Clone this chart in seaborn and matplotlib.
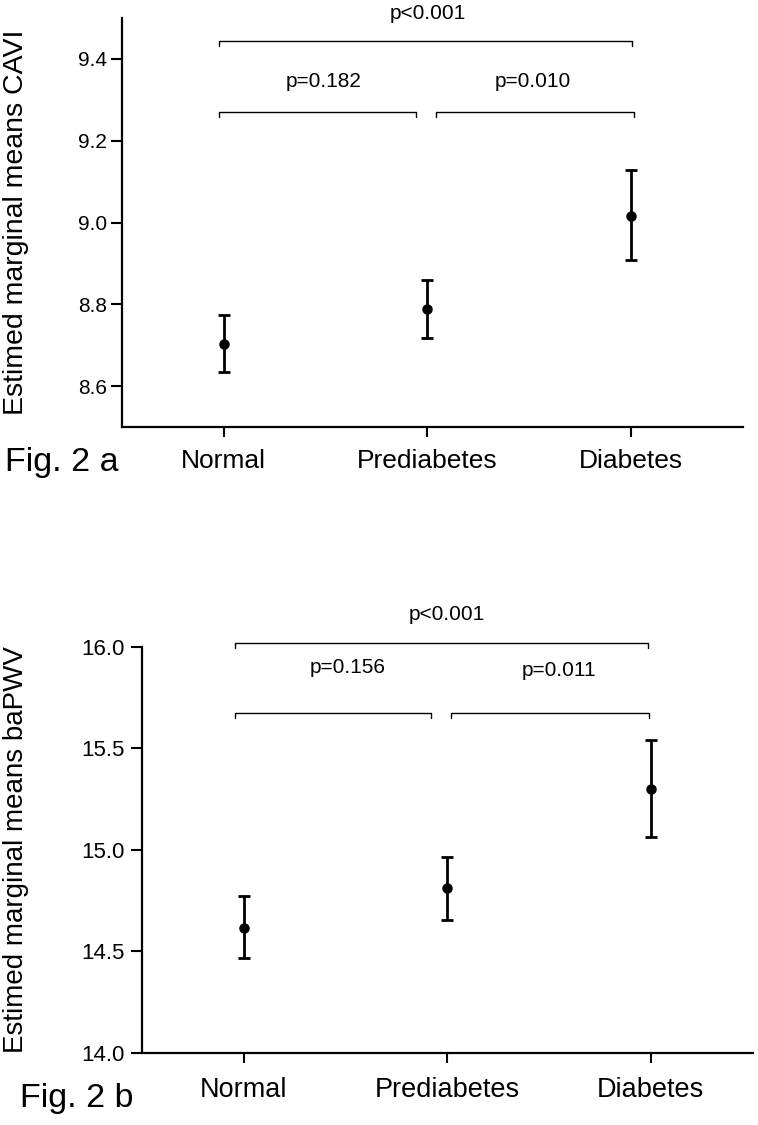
import numpy as np
import pandas as pd
import matplotlib
matplotlib.use("Agg")
import matplotlib.pyplot as plt
import seaborn as sns

# --------------------------------------------------------------------
# Data (estimated marginal means with 95% CI)
# --------------------------------------------------------------------

groups = ["Normal", "Prediabetes", "Diabetes"]

cavi_mean = [8.704, 8.789, 9.017]
cavi_low = [8.634, 8.718, 8.909]
cavi_high = [8.774, 8.860, 9.128]

pwv_mean = [14.616, 14.812, 15.302]
pwv_low = [14.468, 14.655, 15.062]
pwv_high = [14.772, 14.966, 15.542]

# comparisons: (group i, group j, p label)
comparisons = [(0, 2, "p<0.001"), (0, 1, "p=0.182"), (1, 2, "p=0.010")]
comparisons_b = [(0, 2, "p<0.001"), (0, 1, "p=0.156"), (1, 2, "p=0.011")]

# --------------------------------------------------------------------
# Style
# --------------------------------------------------------------------

sns.set_style("ticks")
plt.rcParams["font.family"] = ["Liberation Sans", "DejaVu Sans"]
plt.rcParams["text.color"] = "black"
plt.rcParams["axes.labelcolor"] = "black"
plt.rcParams["xtick.color"] = "black"
plt.rcParams["ytick.color"] = "black"

fig = plt.figure(figsize=(7.58, 11.25), dpi=100)
ax_a = fig.add_axes([0.161, 0.6204, 0.819, 0.3636])
ax_b = fig.add_axes([0.187, 0.064, 0.806, 0.3609])


def draw_panel(ax, mean, low, high):
    df = pd.DataFrame({"group": groups, "mean": mean})
    sns.pointplot(data=df, x="group", y="mean", errorbar=None, color="black",
                  linestyle="none", markers="o", markersize=5.5, ax=ax)
    x = np.arange(len(groups))
    m = np.array(mean)
    yerr = [m - np.array(low), np.array(high) - m]
    ax.errorbar(x, m, yerr=yerr, fmt="none", ecolor="black",
                elinewidth=2, capsize=4, capthick=2)
    sns.despine(ax=ax)
    for s in ["left", "bottom"]:
        ax.spines[s].set_linewidth(1.6)
        ax.spines[s].set_color("black")
    ax.set_xlabel("")


def bracket(ax, x1, x2, y, drop, label=None, ty=None, tx=None, fs=15):
    ax.plot([x1, x1, x2, x2], [y - drop, y, y, y - drop], color="black",
            lw=1.0, clip_on=False)
    if label:
        ax.text(tx, ty, label, ha="center", va="center", fontsize=fs,
                color="black", clip_on=False)


# ---------------- Fig 2a ----------------
draw_panel(ax_a, cavi_mean, cavi_low, cavi_high)
ax_a.set_xlim(-0.5, 2.55)
ax_a.set_ylim(8.5, 9.5)
ax_a.set_yticks([8.6, 8.8, 9.0, 9.2, 9.4])
ax_a.set_yticklabels(["8.6", "8.8", "9.0", "9.2", "9.4"])
ax_a.tick_params(axis="y", direction="out", length=8, width=1.5, pad=3,
                 labelsize=15, color="black")
ax_a.tick_params(axis="x", direction="out", length=7, width=1.5, pad=9,
                 labelsize=19, color="black")
ax_a.set_ylabel("Estimed marginal means CAVI", fontsize=20.5)
ax_a.yaxis.set_label_coords(-0.150, 0.5)

bracket(ax_a, -0.025, 2.005, 9.444, 0.012, comparisons[0][2], 9.512, 1.0)
bracket(ax_a, -0.025, 0.943, 9.27, 0.012, comparisons[1][2], 9.344, 0.49)
bracket(ax_a, 1.042, 2.015, 9.27, 0.012, comparisons[2][2], 9.344, 1.52)

fig.text(0.007, 0.589, "Fig. 2 a", fontsize=24.5, ha="left", va="center")

# ---------------- Fig 2b ----------------
draw_panel(ax_b, pwv_mean, pwv_low, pwv_high)
ax_b.set_xlim(-0.5, 2.5)
ax_b.set_ylim(14.0, 16.0)
ax_b.set_yticks([14.0, 14.5, 15.0, 15.5, 16.0])
ax_b.set_yticklabels(["14.0", "14.5", "15.0", "15.5", "16.0"])
ax_b.tick_params(axis="y", direction="out", length=8, width=1.5, pad=4,
                 labelsize=16, color="black")
ax_b.tick_params(axis="x", direction="out", length=7, width=1.5, pad=10,
                 labelsize=19.5, color="black")
ax_b.set_ylabel("Estimed marginal means baPWV", fontsize=20)
ax_b.yaxis.set_label_coords(-0.185, 0.5)

bracket(ax_b, -0.04, 1.985, 16.02, 0.025, comparisons_b[0][2], 16.158, 1.0)
bracket(ax_b, -0.04, 0.92, 15.675, 0.025, comparisons_b[1][2], 15.897, 0.51)
bracket(ax_b, 1.02, 1.99, 15.675, 0.025, comparisons_b[2][2], 15.885, 1.55)

fig.text(0.027, 0.024, "Fig. 2 b", fontsize=24.5, ha="left", va="center")

fig.savefig("out.png", dpi=100)
